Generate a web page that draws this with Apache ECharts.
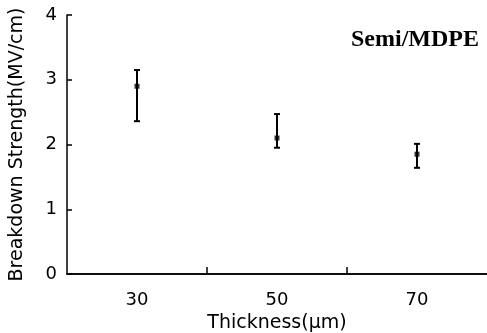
<!DOCTYPE html>
<html>
<head>
<meta charset="utf-8">
<script src="https://cdn.jsdelivr.net/npm/echarts@6/dist/echarts.min.js"></script>
<style>
  html, body { margin: 0; padding: 0; background: #fff; }
  #chart { width: 487px; height: 333px; }
</style>
</head>
<body>
<div id="chart"></div>
<script>
const thickness = [30, 50, 70]
const strength = [2.9, 2.1, 1.85]
const upper = [3.15, 2.47, 2.01]
const lower = [2.36, 1.95, 1.64]
const xLabels = [30, 50, 70]
const xTicks = [40, 60]

const font = '"DejaVu Sans", sans-serif'
const chart = echarts.init(document.getElementById('chart'))

const errData = thickness.map((t, i) => [t, lower[i], upper[i]])
const pointData = thickness.map((t, i) => [t, strength[i]])

chart.setOption({
  backgroundColor: '#fff',
  animation: false,
  grid: { left: 67, right: 0, top: 15, bottom: 59, containLabel: false, outerBoundsMode: 'none' },
  graphic: [{
    type: 'text',
    right: 8,
    top: 28,
    style: {
      text: 'Semi/MDPE',
      font: 'bold 24px "Liberation Serif", "Times New Roman", serif',
      fill: '#000'
    }
  }],
  xAxis: [{
    type: 'value',
    min: 20,
    max: 80,
    name: 'Thickness(μm)',
    nameLocation: 'middle',
    nameGap: 38,
    nameTextStyle: { color: '#000', fontSize: 19, fontFamily: font },
    axisLine: { show: true, onZero: false, lineStyle: { color: '#000', width: 1.5 } },
    axisTick: { show: true, inside: true, length: 7, customValues: xTicks, lineStyle: { color: '#000', width: 1.5 } },
    axisLabel: { customValues: xLabels, color: '#000', fontSize: 18, fontFamily: font, margin: 17 },
    splitLine: { show: false }
  }, {
    type: 'value',
    position: 'top',
    min: 20,
    max: 80,
    axisLine: { show: true, lineStyle: { color: '#000', width: 1.5 } },
    axisTick: { show: false },
    axisLabel: { show: false },
    splitLine: { show: false }
  }],
  yAxis: {
    type: 'value',
    min: 0,
    max: 4,
    interval: 1,
    name: 'Breakdown Strength(MV/cm)',
    nameLocation: 'middle',
    nameGap: 40,
    nameTextStyle: { color: '#000', fontSize: 19, fontFamily: font },
    axisLine: { show: true, onZero: false, lineStyle: { color: '#000', width: 1.5 } },
    axisTick: { show: true, inside: false, length: -5, lineStyle: { color: '#000', width: 1.5 } },
    axisLabel: { color: '#000', fontSize: 18, fontFamily: font, margin: 10 },
    splitLine: { show: false }
  },
  series: [{
    type: 'custom',
    data: errData,
    renderItem: (params, api) => {
      const lo = api.coord([api.value(0), api.value(1)])
      const hi = api.coord([api.value(0), api.value(2)])
      const cap = 3
      const style = { stroke: '#000', lineWidth: 2 }
      return {
        type: 'group',
        children: [
          { type: 'line', shape: { x1: lo[0], y1: lo[1], x2: hi[0], y2: hi[1] }, style },
          { type: 'line', shape: { x1: hi[0] - cap, y1: hi[1], x2: hi[0] + cap, y2: hi[1] }, style },
          { type: 'line', shape: { x1: lo[0] - cap, y1: lo[1], x2: lo[0] + cap, y2: lo[1] }, style }
        ]
      }
    }
  }, {
    type: 'scatter',
    data: pointData,
    symbol: 'rect',
    symbolSize: 5,
    itemStyle: { color: '#000' }
  }]
})
</script>
</body>
</html>
